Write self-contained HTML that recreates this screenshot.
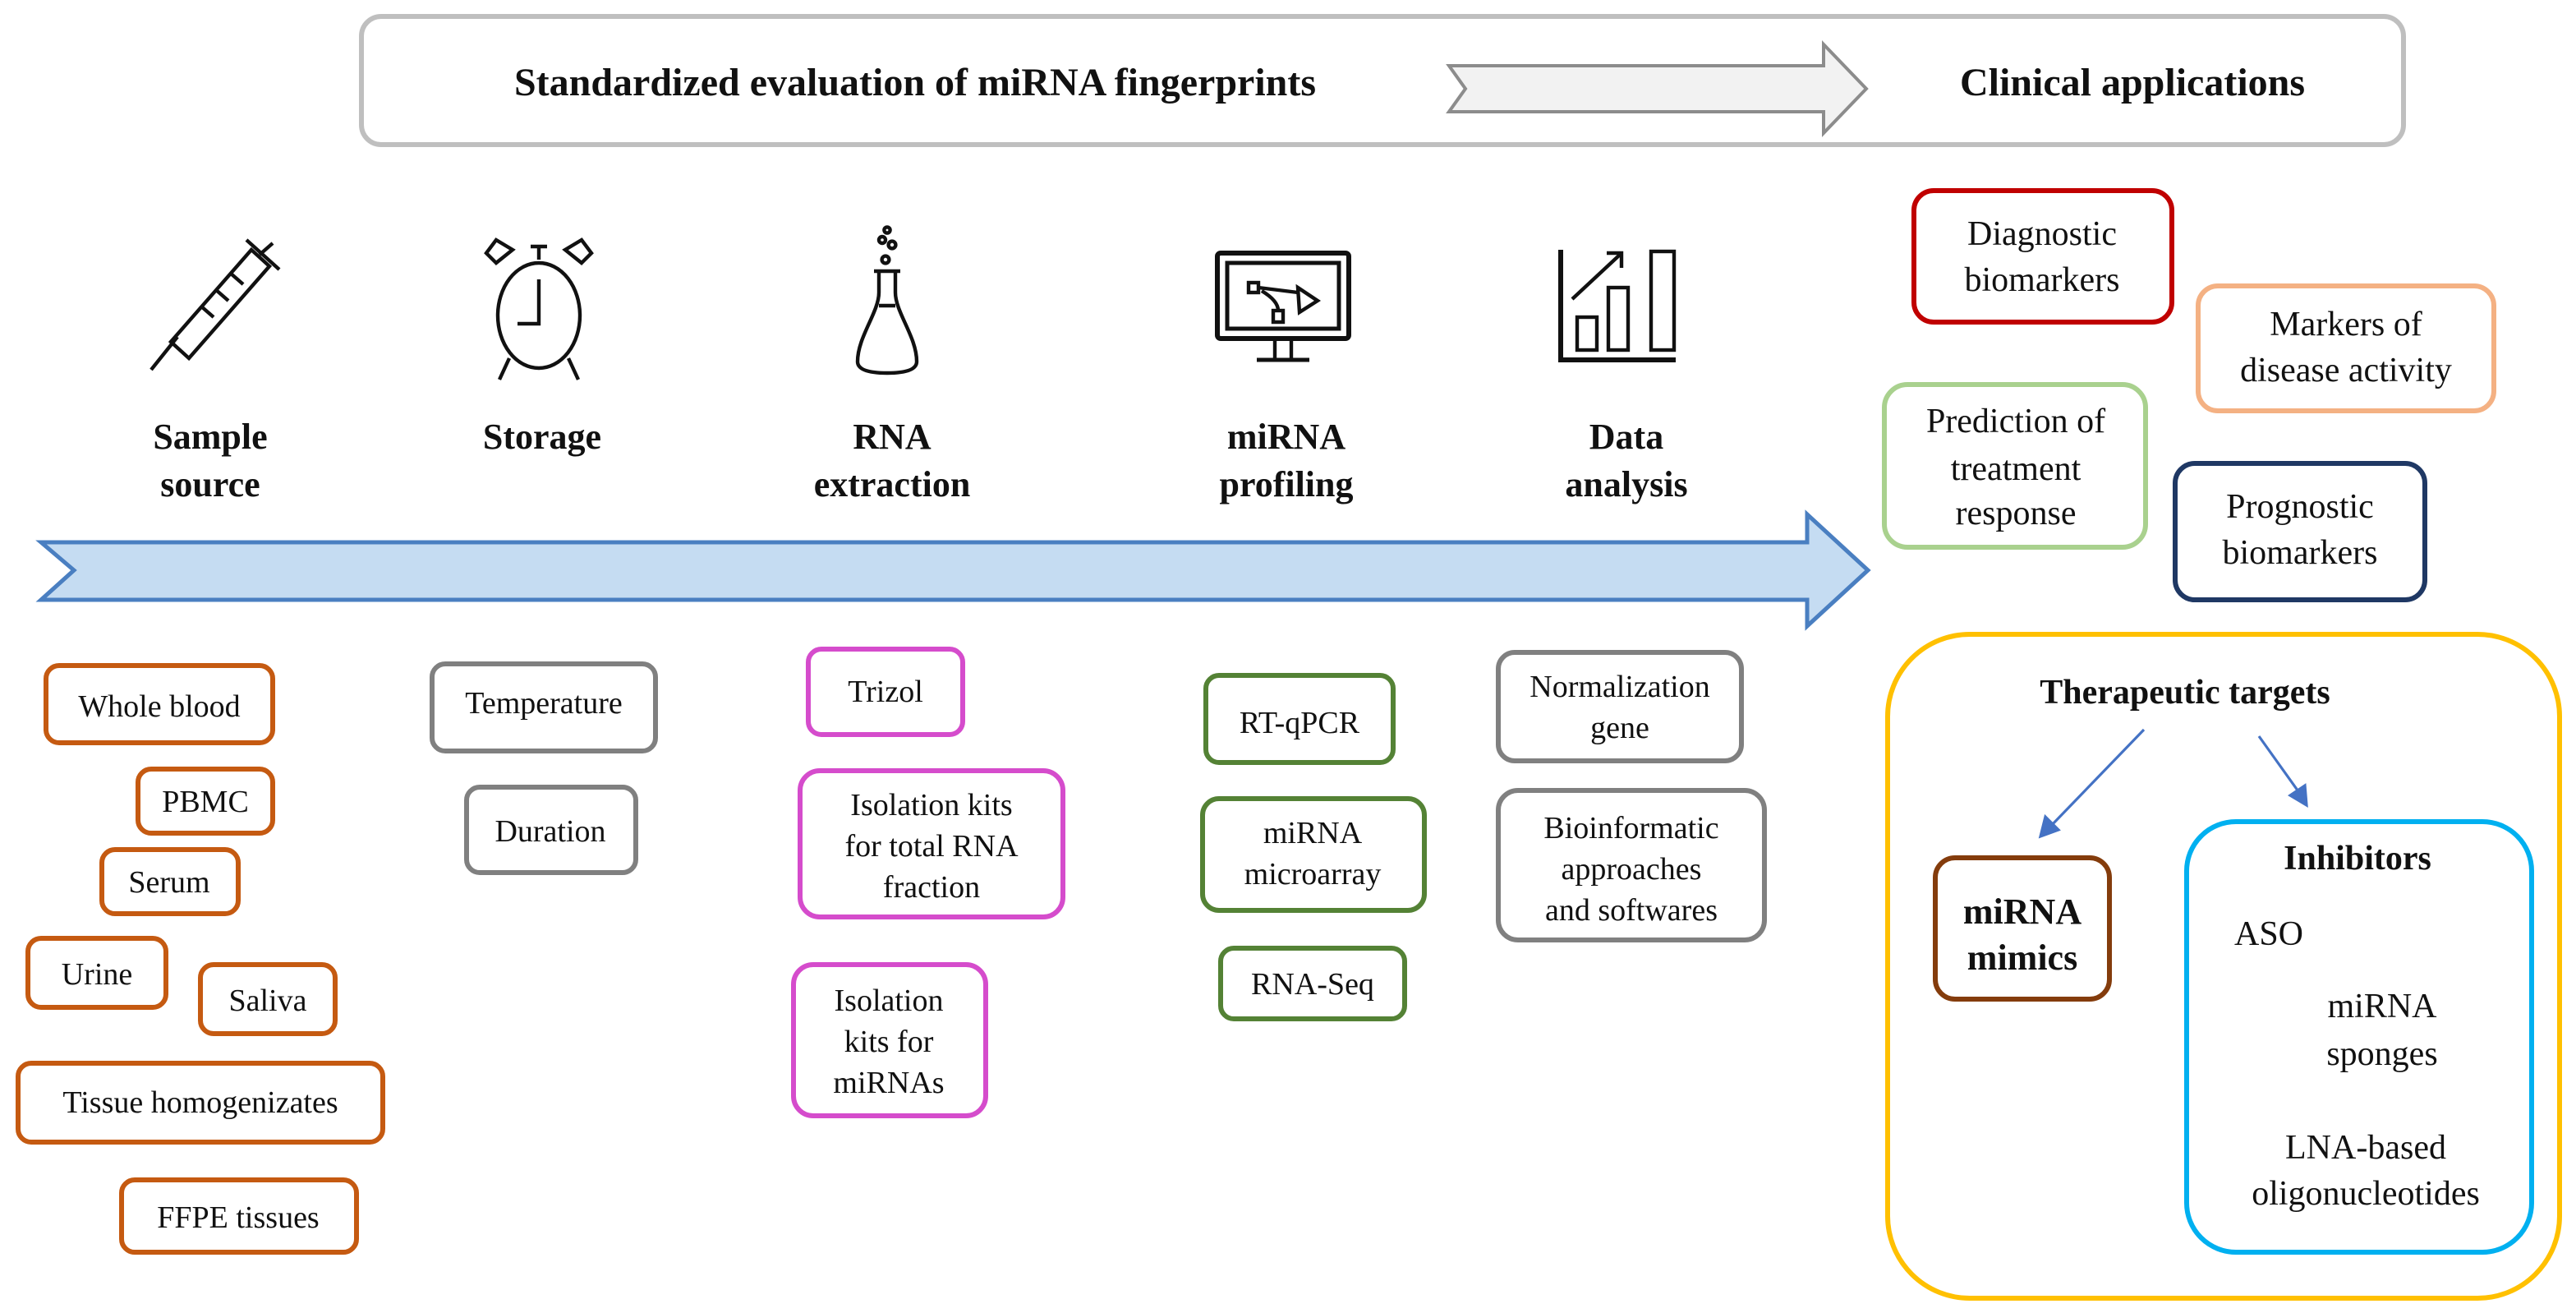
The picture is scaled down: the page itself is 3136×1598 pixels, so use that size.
<!DOCTYPE html>
<html><head><meta charset="utf-8"><style>
html,body{margin:0;padding:0;background:#fff;width:3136px;height:1598px;overflow:hidden}
svg{display:block}
svg, svg text{font-family:"Liberation Serif","DejaVu Serif",serif !important}
text{fill:#111}
.b{font-weight:bold}
.t{font-size:19px}
.h{font-size:24px;font-weight:bold}
.s{font-size:22px;font-weight:bold}
</style></head><body>
<svg width="3136" height="1598" viewBox="0 0 1568 799" xmlns="http://www.w3.org/2000/svg" font-family="Liberation Serif, serif">
<rect x="0" y="0" width="1568" height="799" fill="#fff"/>
<!-- header -->
<rect x="220" y="10" width="1243" height="78" rx="12" fill="#fff" stroke="#bfbfbf" stroke-width="3"/>
<text x="557" y="58" class="h" text-anchor="middle" font-family="Liberation Serif, serif">Standardized evaluation of miRNA fingerprints</text>
<polygon points="882,40 1110,40 1110,27 1136,54 1110,81 1110,68 882,68 892,54" fill="#f2f2f2" stroke="#8c8c8c" stroke-width="2"/>
<text x="1298" y="58" class="h" text-anchor="middle" font-family="Liberation Serif, serif">Clinical applications</text>

<!-- icons -->
<g fill="none" stroke="#111" stroke-width="2.2">
 <line x1="92" y1="225" x2="108" y2="205"/>
 <polygon points="104,208 115,218 164,162 153,152"/>
 <line x1="150" y1="146" x2="170" y2="164"/>
 <line x1="158" y1="155" x2="166" y2="148"/>
 <line x1="122" y1="186" x2="130" y2="193"/><line x1="131" y1="176" x2="139" y2="183"/><line x1="140" y1="166" x2="148" y2="173"/>
 <ellipse cx="328" cy="192" rx="25" ry="32"/>
 <polyline points="328,170 328,197 315,197"/>
 <path d="M302,160 l-6,-6 6,-8 10,6z"/><path d="M354,160 l6,-6 -6,-8 -10,6z"/>
 <line x1="328" y1="158" x2="328" y2="150"/><line x1="323" y1="150" x2="333" y2="150"/>
 <line x1="310" y1="218" x2="304" y2="231"/><line x1="346" y1="218" x2="352" y2="231"/>
 <path d="M535,165 L535,178 C535,190 522,205 522,220 Q522,227 540,227 Q558,227 558,220 C558,205 545,190 545,178 L545,165"/>
 <line x1="532" y1="165" x2="548" y2="165"/><line x1="535" y1="186" x2="545" y2="186"/>
 <circle cx="539" cy="158" r="2.2"/><circle cx="543" cy="149" r="2.2"/><circle cx="537" cy="146" r="2"/><circle cx="540" cy="140" r="1.8"/>
 <rect x="741" y="154" width="80" height="52" rx="2" stroke-width="3"/>
 <rect x="747" y="160" width="68" height="40" stroke-width="2.5"/>
 <line x1="776" y1="207" x2="776" y2="218"/><line x1="786" y1="207" x2="786" y2="218"/>
 <line x1="765" y1="219" x2="797" y2="219" stroke-width="2.5"/>
 <rect x="760" y="172" width="6" height="6"/>
 <rect x="775" y="189" width="6" height="7"/>
 <path d="M766,175 L790,178 M768,177 Q778,183 778,189"/>
 <polygon points="790,175 802,183 791,190"/>
 <polyline points="950,152 950,219 1020,219" stroke-width="3"/>
 <rect x="960" y="193" width="12" height="20"/>
 <rect x="979" y="175" width="12" height="38"/>
 <rect x="1005" y="153" width="14" height="60"/>
 <line x1="957" y1="182" x2="986" y2="155"/><polyline points="978,154 987,154 987,163"/>
</g>

<g text-anchor="middle" font-family="Liberation Serif, serif" font-size="22" font-weight="bold">
<text x="128" y="273">Sample</text><text x="128" y="302">source</text>
<text x="330" y="273">Storage</text>
<text x="543" y="273">RNA</text><text x="543" y="302">extraction</text>
<text x="783" y="273">miRNA</text><text x="783" y="302">profiling</text>
<text x="990" y="273">Data</text><text x="990" y="302">analysis</text>
</g>

<polygon points="25,330 1100,330 1100,313 1137,347 1100,381 1100,365 25,365 45,347" fill="#c5dcf2" stroke="#4a7fc1" stroke-width="2.5"/>

<g fill="#fff" stroke-width="3">
 <g stroke="#c55a11">
  <rect x="28" y="405" width="138" height="47" rx="8"/>
  <rect x="84" y="468" width="82" height="39" rx="8"/>
  <rect x="62" y="517" width="83" height="39" rx="8"/>
  <rect x="17" y="571" width="84" height="42" rx="8"/>
  <rect x="122" y="587" width="82" height="42" rx="8"/>
  <rect x="11" y="647" width="222" height="48" rx="8"/>
  <rect x="74" y="718" width="143" height="44" rx="8"/>
 </g>
 <g stroke="#808080">
  <rect x="263" y="404" width="136" height="53" rx="8"/>
  <rect x="284" y="479" width="103" height="52" rx="8"/>
  <rect x="912" y="397" width="148" height="66" rx="10"/>
  <rect x="912" y="481" width="162" height="91" rx="12"/>
 </g>
 <g stroke="#d54ccc">
  <rect x="492" y="395" width="94" height="52" rx="8"/>
  <rect x="487" y="469" width="160" height="89" rx="12"/>
  <rect x="483" y="587" width="117" height="92" rx="12"/>
 </g>
 <g stroke="#548235">
  <rect x="734" y="411" width="114" height="53" rx="8"/>
  <rect x="732" y="486" width="135" height="68" rx="10"/>
  <rect x="743" y="577" width="112" height="43" rx="8"/>
 </g>
 <rect x="1165" y="116" width="157" height="80" rx="12" stroke="#c00000"/>
 <rect x="1338" y="174" width="180" height="76" rx="12" stroke="#f4b183"/>
 <rect x="1147" y="234" width="159" height="99" rx="14" stroke="#a9d18e"/>
 <rect x="1324" y="282" width="152" height="83" rx="12" stroke="#1f3864"/>
 <rect x="1149" y="386" width="409" height="404" rx="50" stroke="#ffc000"/>
 <rect x="1178" y="522" width="106" height="86" rx="12" stroke="#843c0c"/>
 <rect x="1331" y="500" width="210" height="262" rx="30" stroke="#00b0f0"/>
</g>

<g text-anchor="middle" font-family="Liberation Serif, serif" font-size="19">
 <text x="97" y="436">Whole blood</text>
 <text x="125" y="494">PBMC</text>
 <text x="103" y="543">Serum</text>
 <text x="59" y="599">Urine</text>
 <text x="163" y="615">Saliva</text>
 <text x="122" y="677">Tissue homogenizates</text>
 <text x="145" y="747">FFPE tissues</text>
 <text x="331" y="434">Temperature</text>
 <text x="335" y="512">Duration</text>
 <text x="539" y="427">Trizol</text>
 <text x="567" y="496">Isolation kits</text><text x="567" y="521">for total RNA</text><text x="567" y="546">fraction</text>
 <text x="541" y="615">Isolation</text><text x="541" y="640">kits for</text><text x="541" y="665">miRNAs</text>
 <text x="791" y="446">RT-qPCR</text>
 <text x="799" y="513">miRNA</text><text x="799" y="538">microarray</text>
 <text x="799" y="605">RNA-Seq</text>
 <text x="986" y="424">Normalization</text><text x="986" y="449">gene</text>
 <text x="993" y="510">Bioinformatic</text><text x="993" y="535">approaches</text><text x="993" y="560">and softwares</text>
</g>
<g text-anchor="middle" font-family="Liberation Serif, serif" font-size="21">
 <text x="1243" y="149">Diagnostic</text><text x="1243" y="177">biomarkers</text>
 <text x="1428" y="204">Markers of</text><text x="1428" y="232">disease activity</text>
 <text x="1227" y="263">Prediction of</text><text x="1227" y="292">treatment</text><text x="1227" y="319">response</text>
 <text x="1400" y="315">Prognostic</text><text x="1400" y="343">biomarkers</text>
 <text x="1330" y="428" font-weight="bold">Therapeutic targets</text>
 <text x="1231" y="562" font-weight="bold" font-size="22">miRNA</text><text x="1231" y="590" font-weight="bold" font-size="22">mimics</text>
 <text x="1435" y="529" font-weight="bold">Inhibitors</text>
 <text x="1381" y="575">ASO</text>
 <text x="1450" y="619">miRNA</text><text x="1450" y="648">sponges</text>
 <text x="1440" y="705">LNA-based</text><text x="1440" y="733">oligonucleotides</text>
</g>
<g stroke="#4472c4" stroke-width="1.6" fill="#4472c4">
 <line x1="1305" y1="444" x2="1248" y2="503"/><polygon points="1242,509 1245,497 1253,505"/>
 <line x1="1375" y1="448" x2="1400" y2="483"/><polygon points="1404,490 1394,484 1403,478"/>
</g>
</svg>
</body></html>
